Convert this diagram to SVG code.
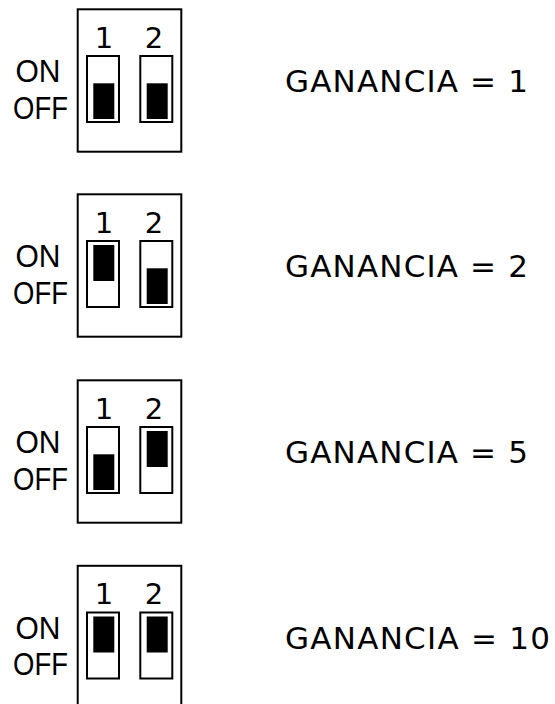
<svg xmlns="http://www.w3.org/2000/svg" width="555" height="704" viewBox="0 0 555 704">
<style>
.box{fill:none;stroke:#000;stroke-width:2}
.sw{fill:#fff;stroke:#000;stroke-width:2}
.knob{fill:#000}
.lbl{font-family:"Liberation Sans",Arial,sans-serif;font-size:31px;fill:#000}
.num{font-family:"DejaVu Sans",Verdana,sans-serif;font-size:29px;fill:#000;text-anchor:middle}
.gain{font-family:"DejaVu Sans",Verdana,sans-serif;font-size:31px;fill:#000}
</style>
<defs>
<g id="base">
<rect class="box" x="77.7" y="9.3" width="103.6" height="142.4"/>
<text class="num" x="104" y="47.7">1</text>
<text class="num" x="154" y="47.7">2</text>
<text class="lbl" x="15.5" y="82" textLength="45" lengthAdjust="spacingAndGlyphs">ON</text>
<text class="lbl" x="13" y="118.5" textLength="55" lengthAdjust="spacingAndGlyphs">OFF</text>
<rect class="sw" x="87" y="56" width="32" height="66"/>
<rect class="sw" x="140.3" y="56" width="32" height="66"/>
</g>
<rect id="on" class="knob" x="0" y="60" width="21" height="36"/>
<rect id="off" class="knob" x="0" y="83.3" width="21" height="35.7"/>
</defs>
<g id="row1">
<use href="#base"/>
<use href="#off" x="93.3"/>
<use href="#off" x="146.7"/>
<text class="gain" x="285" y="92.3" textLength="243" lengthAdjust="spacing">GANANCIA = 1</text>
</g>
<g id="row2" transform="translate(0,185)">
<use href="#base"/>
<use href="#on" x="93.3"/>
<use href="#off" x="146.7"/>
<text class="gain" x="285" y="92.3" textLength="243" lengthAdjust="spacing">GANANCIA = 2</text>
</g>
<g id="row3" transform="translate(0,371)">
<use href="#base"/>
<use href="#off" x="93.3"/>
<use href="#on" x="146.7"/>
<text class="gain" x="285" y="92.3" textLength="243" lengthAdjust="spacing">GANANCIA = 5</text>
</g>
<g id="row4" transform="translate(0,556.5)">
<use href="#base"/>
<use href="#on" x="93.3"/>
<use href="#on" x="146.7"/>
<text class="gain" x="285" y="92.3" textLength="265" lengthAdjust="spacing">GANANCIA = 10</text>
</g>
<g id="connectors"/>
</svg>
